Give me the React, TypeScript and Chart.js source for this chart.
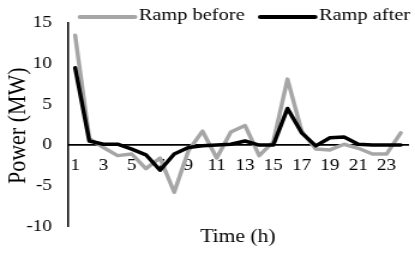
import { useEffect, useRef } from "react";
import { Chart, registerables } from "chart.js";

Chart.register(...registerables);

const hours = ["1", "2", "3", "4", "5", "6", "7", "8", "9", "10", "11", "12", "13", "14", "15", "16", "17", "18", "19", "20", "21", "22", "23", "24"];
const rampBefore = [13.5, 0.8, -0.3, -1.3, -1.1, -2.9, -1.6, -5.8, -0.7, 1.7, -1.6, 1.6, 2.4, -1.3, 0.4, 8.1, 1.7, -0.5, -0.6, 0.1, -0.4, -1.1, -1.1, 1.5];
const rampAfter = [9.5, 0.5, 0.1, 0.1, -0.5, -1.2, -3.1, -1.1, -0.3, -0.1, 0.0, 0.1, 0.5, 0.0, 0.0, 4.5, 1.5, -0.1, 0.9, 1.0, 0.1, 0.0, 0.0, 0.0];
const seriesNames = ["Ramp before", "Ramp after"];
const seriesColors = ["#a6a6a6", "#000000"];
const yMin = -10;
const yMax = 15;
const yStep = 5;
const xAxisTitle = "Time (h)";
const yAxisTitle = "Power (MW)";

const FONT = "'Times New Roman', 'Liberation Serif', serif";
const INNER_W = 346;
const STRETCH = 415 / INNER_W;

const legendPlugin = {
  id: "customLegend",
  afterDraw(chart: any) {
    const ctx = chart.ctx;
    ctx.save();
    ctx.font = `17px ${FONT}`;
    ctx.textBaseline = "middle";
    ctx.textAlign = "left";
    let x = 66.7;
    const y = 17;
    chart.data.datasets.forEach((ds: any) => {
      ctx.strokeStyle = ds.borderColor;
      ctx.lineWidth = 4;
      ctx.lineCap = "round";
      ctx.beginPath();
      ctx.moveTo(x, y);
      ctx.lineTo(x + 45.8, y);
      ctx.stroke();
      ctx.fillStyle = "#000";
      ctx.fillText(ds.label, x + 49, y - 1);
      x += 49 + ctx.measureText(ds.label).width + 13;
    });
    ctx.restore();
  },
};

const yTitlePlugin = {
  id: "yTitle",
  afterDraw(chart: any) {
    const { ctx, chartArea } = chart;
    ctx.save();
    ctx.font = `22px ${FONT}`;
    ctx.fillStyle = "#000";
    ctx.textAlign = "center";
    ctx.textBaseline = "middle";
    ctx.translate(15.5, (chartArea.top + chartArea.bottom) / 2 + 1);
    ctx.rotate(-Math.PI / 2);
    ctx.fillText(yAxisTitle, 0, 0);
    ctx.restore();
  },
};

export default function App() {
  const canvasRef = useRef<HTMLCanvasElement | null>(null);

  useEffect(() => {
    document.body.style.margin = "0";
    document.body.style.overflow = "hidden";
    const canvas = canvasRef.current;
    if (!canvas) return;
    const chart = new Chart(canvas, {
      type: "line",
      data: {
        labels: hours,
        datasets: [
          {
            label: seriesNames[0],
            data: rampBefore,
            borderColor: seriesColors[0],
            backgroundColor: seriesColors[0],
            borderWidth: 3.5,
            pointRadius: 0,
            tension: 0,
            borderJoinStyle: "round",
            borderCapStyle: "round",
            order: 2,
          },
          {
            label: seriesNames[1],
            data: rampAfter,
            borderColor: seriesColors[1],
            backgroundColor: seriesColors[1],
            borderWidth: 3.5,
            pointRadius: 0,
            tension: 0,
            borderJoinStyle: "round",
            borderCapStyle: "round",
            order: 1,
          },
        ],
      },
      options: {
        animation: false,
        responsive: true,
        maintainAspectRatio: false,
        layout: { padding: { top: 18.6, right: 6, bottom: 0, left: 8.6 } },
        plugins: {
          legend: { display: false },
          tooltip: { enabled: false },
        },
        scales: {
          x: {
            type: "category",
            position: "bottom",
            offset: true,
            grid: { display: false, drawTicks: false },
            border: { display: false },
            ticks: { display: false },
            title: {
              display: true,
              text: xAxisTitle,
              color: "#000",
              font: { family: FONT, size: 18, lineHeight: 1.2 },
              padding: { top: 0, bottom: 5 },
            },
          },
          x2: {
            type: "category",
            axis: "x",
            position: { y: 0 },
            offset: true,
            grid: { display: false, drawTicks: false },
            border: { display: true, color: "#000", width: 1.75 },
            ticks: {
              autoSkip: false,
              maxRotation: 0,
              padding: 11,
              color: "#000",
              font: { family: FONT, size: 16 },
              callback: (_v: any, i: number) => (i % 2 === 0 ? hours[i] : ""),
            },
          },
          y: {
            type: "linear",
            position: "left",
            min: yMin,
            max: yMax,
            grid: { display: false, drawTicks: false },
            border: { display: true, color: "#000", width: 1.5 },
            ticks: {
              stepSize: yStep,
              padding: 13.4,
              color: "#000",
              font: { family: FONT, size: 16 },
            },
          },
        },
      } as any,
      plugins: [legendPlugin, yTitlePlugin],
    });
    return () => chart.destroy();
  }, []);

  return (
    <div
      style={{
        width: INNER_W,
        height: 253,
        transform: `scaleX(${STRETCH})`,
        transformOrigin: "0 0",
        position: "relative",
      }}
    >
      <canvas ref={canvasRef} />
    </div>
  );
}
